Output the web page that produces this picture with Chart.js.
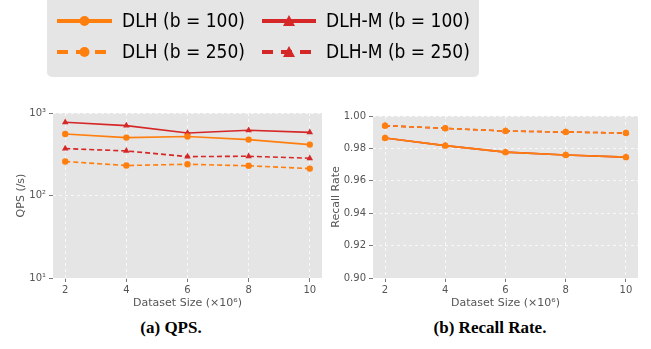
<!DOCTYPE html>
<html lang="en">
<head>
<meta charset="UTF-8">
<title>DLH vs DLH-M</title>
<script src="https://cdn.jsdelivr.net/npm/chart.js"></script>
<style>
    body { margin: 0; width: 651px; height: 349px; background: #fff; position: relative; overflow: hidden; }
    #legendBox {
        position: absolute; left: 47px; top: -6px; width: 432px; height: 83px;
        background: #e5e5e5; border-radius: 5px;
    }
    #legendCanvas { position: absolute; left: 0; top: 0; }
    .chartBox { position: absolute; top: 100px; height: 212px; }
    #qpsBox { left: 0; width: 330px; }
    #recallBox { left: 330px; width: 321px; }
    .caption {
        position: absolute; top: 318px; font-family: "Liberation Serif", serif;
        font-weight: bold; font-size: 17px; color: #000; transform: translateX(-50%);
        white-space: nowrap;
    }
</style>
</head>
<body>
<div id="legendBox"></div>
<canvas id="legendCanvas" width="651" height="90"></canvas>
<div class="chartBox" id="qpsBox"><canvas id="qpsChart"></canvas></div>
<div class="chartBox" id="recallBox"><canvas id="recallChart"></canvas></div>
<div class="caption" style="left:171px">(a) QPS.</div>
<div class="caption" style="left:490px">(b) Recall Rate.</div>

<script>
    // dataset size (x10^6)
    const sizes = [2, 4, 6, 8, 10];

    // QPS (/s)
    const qpsDLH100 = [557, 503, 518, 476, 414];
    const qpsDLH250 = [258, 231, 239, 229, 212];
    const qpsDLHM100 = [771, 703, 573, 617, 583];
    const qpsDLHM250 = [370, 347, 296, 299, 283];

    // recall rate (DLH and DLH-M overlap)
    const recallDLH100 = [0.9864, 0.9817, 0.9777, 0.9759, 0.9746];
    const recallDLH250 = [0.9940, 0.9924, 0.9907, 0.9901, 0.9895];
    const recallDLHM100 = [0.9864, 0.9817, 0.9777, 0.9759, 0.9746];
    const recallDLHM250 = [0.9940, 0.9924, 0.9907, 0.9901, 0.9895];

    const xTicks = [2, 4, 6, 8, 10];
    const qpsTicks = [10, 100, 1000];
    const qpsTickLabels = ['10\u00b9', '10\u00b2', '10\u00b3'];
    const recallTicks = [0.90, 0.92, 0.94, 0.96, 0.98, 1.00];

    const ORANGE = '#ff7f0e';
    const RED = '#d62728';
    const DASH = [5, 3];

    const seriesInfo = [
        { label: 'DLH (b = 100)', color: ORANGE, dash: [], marker: 'circle' },
        { label: 'DLH (b = 250)', color: ORANGE, dash: DASH, marker: 'circle' },
        { label: 'DLH-M (b = 100)', color: RED, dash: [], marker: 'triangle' },
        { label: 'DLH-M (b = 250)', color: RED, dash: DASH, marker: 'triangle' }
    ];

    function makeSet(info, values) {
        return {
            label: info.label,
            data: sizes.map((x, i) => ({ x: x, y: values[i] })),
            borderColor: info.color,
            backgroundColor: info.color,
            borderWidth: 1.6,
            borderDash: info.dash,
            pointStyle: info.marker,
            pointRadius: info.marker === 'circle' ? 3.2 : 3.8,
            pointBorderWidth: 0,
            tension: 0
        };
    }

    const plotBg = {
        id: 'plotBg',
        beforeDraw(chart) {
            const a = chart.chartArea;
            const ctx = chart.ctx;
            ctx.save();
            ctx.fillStyle = '#e5e5e5';
            ctx.fillRect(a.left, a.top, a.right - a.left, a.bottom - a.top);
            ctx.restore();
        }
    };

    const tickFont = { family: 'DejaVu Sans', size: 10 };
    const titleFont = { family: 'DejaVu Sans', size: 11 };

    function xScale() {
        return {
            type: 'linear', min: 1.6, max: 10.4,
            afterBuildTicks: s => { s.ticks = xTicks.map(v => ({ value: v })); },
            afterFit: s => { s.height = 34; },
            ticks: { color: '#555', font: tickFont, padding: 2, maxRotation: 0 },
            grid: { color: 'rgba(255,255,255,0.9)', lineWidth: 0.8, tickColor: '#555', tickLength: 4, tickBorderDash: [] },
            border: { display: false, dash: [3, 3] },
            title: { display: true, text: 'Dataset Size (\u00d710\u2076)', color: '#555', font: titleFont, padding: { top: 0, bottom: 2 } }
        };
    }

    function commonOptions(yScale, padding) {
        return {
            responsive: true,
            maintainAspectRatio: false,
            animation: false,
            layout: { padding: padding },
            plugins: { legend: { display: false }, tooltip: { enabled: false } },
            scales: { x: xScale(), y: yScale }
        };
    }

    new Chart(document.getElementById('qpsChart'), {
        type: 'line',
        data: {
            datasets: [
                makeSet(seriesInfo[0], qpsDLH100),
                makeSet(seriesInfo[1], qpsDLH250),
                makeSet(seriesInfo[2], qpsDLHM100),
                makeSet(seriesInfo[3], qpsDLHM250)
            ]
        },
        options: commonOptions({
            type: 'logarithmic', min: 10, max: 1000,
            afterBuildTicks: s => { s.ticks = qpsTicks.map(v => ({ value: v })); },
            afterFit: s => { s.width = 53; },
            ticks: {
                color: '#555', font: tickFont, padding: 3,
                callback: v => qpsTickLabels[qpsTicks.indexOf(v)]
            },
            grid: { color: 'rgba(255,255,255,0.9)', lineWidth: 0.8, tickColor: '#555', tickLength: 4, tickBorderDash: [] },
            border: { display: false, dash: [3, 3] },
            title: { display: true, text: 'QPS (/s)', color: '#555', font: titleFont, padding: { top: 15, bottom: 0 } }
        }, { left: 0, right: 8, top: 13, bottom: 0 }),
        plugins: [plotBg]
    });

    new Chart(document.getElementById('recallChart'), {
        type: 'line',
        data: {
            datasets: [
                makeSet(seriesInfo[0], recallDLH100),
                makeSet(seriesInfo[1], recallDLH250),
                makeSet(seriesInfo[2], recallDLHM100),
                makeSet(seriesInfo[3], recallDLHM250)
            ]
        },
        options: commonOptions({
            type: 'linear', min: 0.9, max: 1.0,
            afterBuildTicks: s => { s.ticks = recallTicks.map(v => ({ value: v })); },
            afterFit: s => { s.width = 43; },
            ticks: { color: '#555', font: tickFont, padding: 3, callback: v => v.toFixed(2) },
            grid: { color: 'rgba(255,255,255,0.9)', lineWidth: 0.8, tickColor: '#555', tickLength: 4, tickBorderDash: [] },
            border: { display: false, dash: [3, 3] },
            title: { display: true, text: 'Recall Rate', color: '#555', font: titleFont, padding: { top: 0, bottom: 0 } }
        }, { left: 0, right: 13, top: 16, bottom: 0 }),
        plugins: [plotBg]
    });

    // legend (matplotlib style: line sample + marker + text)
    (function drawLegend() {
        const ctx = document.getElementById('legendCanvas').getContext('2d');
        const cols = [{ x0: 57, x1: 112, text: 122 }, { x0: 262, x1: 316, text: 326 }];
        const rows = [21, 52];
        const order = [[0, 2], [1, 3]]; // row -> series index per column
        ctx.font = '19px "DejaVu Sans Condensed", "DejaVu Sans", sans-serif';
        ctx.textBaseline = 'middle';
        rows.forEach((y, r) => {
            cols.forEach((c, ci) => {
                const s = seriesInfo[order[r][ci]];
                const mid = (c.x0 + c.x1) / 2;
                ctx.save();
                ctx.strokeStyle = s.color;
                ctx.fillStyle = s.color;
                ctx.lineWidth = 4;
                ctx.setLineDash(s.dash.length ? [11, 8] : []);
                ctx.beginPath();
                ctx.moveTo(c.x0, y);
                ctx.lineTo(c.x1, y);
                ctx.stroke();
                ctx.setLineDash([]);
                ctx.beginPath();
                if (s.marker === 'circle') {
                    ctx.arc(mid, y, 5, 0, Math.PI * 2);
                } else {
                    ctx.moveTo(mid, y - 6);
                    ctx.lineTo(mid + 6, y + 5);
                    ctx.lineTo(mid - 6, y + 5);
                    ctx.closePath();
                }
                ctx.fill();
                ctx.fillStyle = '#000';
                ctx.fillText(s.label, c.text, y + 1);
                ctx.restore();
            });
        });
    })();
</script>
</body>
</html>
